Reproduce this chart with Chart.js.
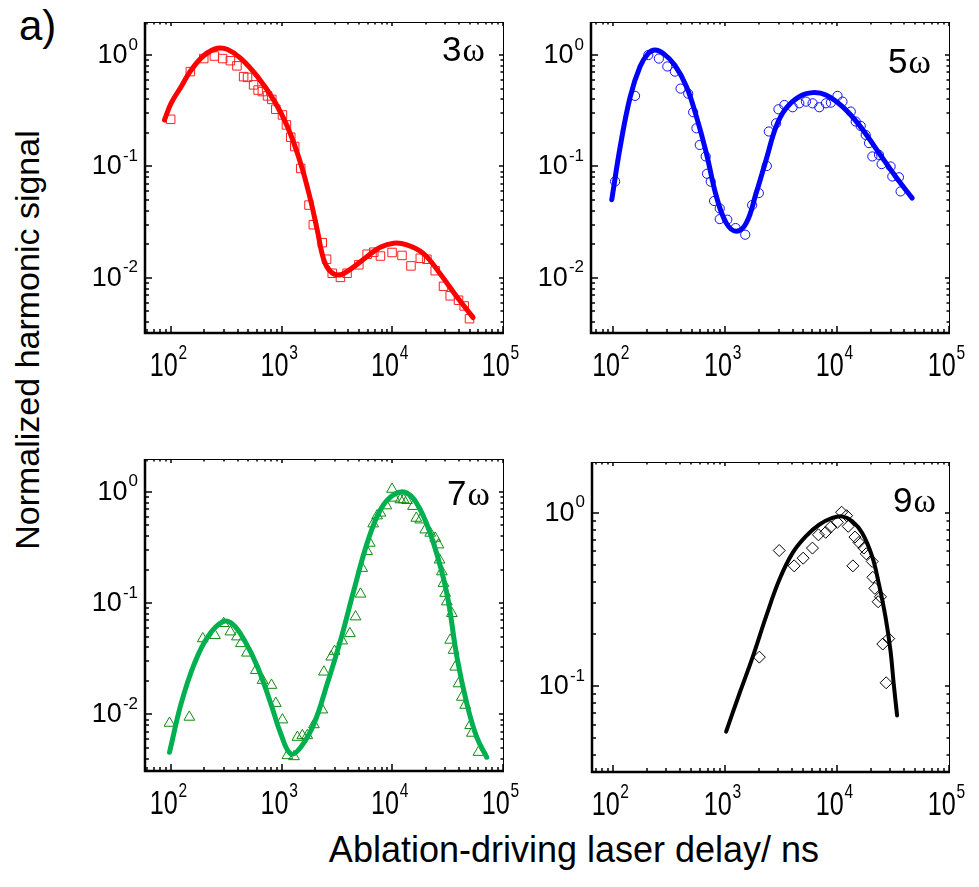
<!DOCTYPE html>
<html>
<head>
<meta charset="utf-8">
<script src="https://cdn.jsdelivr.net/npm/chart.js@4.4.1/dist/chart.umd.min.js"></script>
<style>
  body { margin: 0; background: #fff; }
  #page { position: relative; width: 979px; height: 887px; overflow: hidden; font-family: "Liberation Sans", Arial, sans-serif; }
  canvas { position: absolute; }
  .txt { position: absolute; color: #000; white-space: nowrap; line-height: 1; }
  #tagA { left: 19px; top: 5px; font-size: 42px; }
  #yTitle { left: 27px; top: 340px; font-size: 34px; transform: translate(-50%, -50%) rotate(-90deg); }
  #xTitle { left: 574px; top: 850px; font-size: 36px; transform: translate(-50%, -50%); }
</style>
</head>
<body>
<div id="page">
  <div class="txt" id="tagA">a)</div>
  <div class="txt" id="yTitle">Normalized harmonic signal</div>
  <div class="txt" id="xTitle">Ablation-driving laser delay/ ns</div>
  <canvas id="c3"></canvas>
  <canvas id="c5"></canvas>
  <canvas id="c7"></canvas>
  <canvas id="c9"></canvas>
</div>
<script>
// tick decades shown as 10^n
const xDecades = [2, 3, 4, 5];
const yDecadesWide = [0, -1, -2];
const yDecadesNarrow = [0, -1];
const harmonicLabels = ['3', '5', '7', '9'];

// 3rd harmonic
const h3Delay = [99, 149, 197, 246, 292, 343, 393, 452, 490, 556, 611, 668, 743, 813, 883, 1014, 1102, 1205, 1309, 1483, 1762, 1928, 2324, 2541, 2858, 3390, 3892, 4974, 5913, 6792, 7798, 9931, 12220, 14720, 17870, 20510, 24380, 28980, 33310, 39620, 44570, 49800];
const h3Signal = [0.265, 0.71, 0.93, 0.98, 0.93, 0.89, 0.80, 0.64, 0.63, 0.54, 0.485, 0.47, 0.43, 0.40, 0.326, 0.29, 0.236, 0.183, 0.151, 0.096, 0.045, 0.030, 0.0207, 0.0147, 0.0110, 0.0101, 0.0110, 0.0131, 0.0163, 0.0170, 0.0157, 0.0169, 0.0159, 0.0128, 0.0150, 0.0147, 0.0116, 0.0084, 0.0069, 0.0063, 0.0056, 0.0043];
const h3FitDelay = [87, 100, 123, 151, 200, 263, 324, 428, 603, 853, 1124, 1480, 1820, 2090, 2400, 2760, 3290, 4190, 5880, 7760, 10240, 13490, 19010, 26800, 38100, 53700];
const h3FitSignal = [0.261, 0.37, 0.52, 0.73, 1.0, 1.15, 1.12, 0.93, 0.64, 0.39, 0.228, 0.107, 0.050, 0.027, 0.0145, 0.0114, 0.0106, 0.0120, 0.0155, 0.0188, 0.0205, 0.0198, 0.0166, 0.0110, 0.0068, 0.0044];

// 5th harmonic
const h5Delay = [103.5, 156, 205, 255, 303, 354, 398, 466, 516, 552, 591, 668, 687, 741, 794, 892, 892, 1042, 1236, 1507, 1738, 1995, 2350, 2450, 2845, 2986, 3376, 4002, 4590, 5260, 6030, 6920, 7940, 8790, 10070, 11150, 13240, 14660, 16250, 18000, 19280, 20640, 23660, 24990, 30060, 31120, 35670, 36920];
const h5Signal = [0.0734, 0.43, 1.0, 0.93, 0.79, 0.71, 0.50, 0.45, 0.307, 0.22, 0.156, 0.123, 0.086, 0.073, 0.049, 0.042, 0.0337, 0.0333, 0.028, 0.0244, 0.045, 0.0577, 0.101, 0.206, 0.244, 0.326, 0.356, 0.34, 0.369, 0.382, 0.369, 0.34, 0.369, 0.374, 0.43, 0.382, 0.311, 0.253, 0.231, 0.192, 0.162, 0.123, 0.127, 0.105, 0.1, 0.0813, 0.080, 0.0597];
const h5FitDelay = [96.6, 115, 141, 173, 205, 235, 279, 354, 450, 552, 677, 832, 1021, 1253, 1538, 1888, 2318, 2845, 3493, 4590, 6030, 7940, 11150, 15700, 23660, 33270, 46880];
const h5FitSignal = [0.0503, 0.151, 0.42, 0.79, 1.035, 1.11, 1.035, 0.81, 0.52, 0.28, 0.132, 0.054, 0.031, 0.0262, 0.031, 0.0577, 0.115, 0.228, 0.333, 0.424, 0.46, 0.438, 0.344, 0.236, 0.132, 0.0813, 0.052];

// 7th harmonic
const h7Delay = [96.6, 146, 193, 249, 298, 343, 393, 427, 484, 583, 670, 807, 883, 1014, 1124, 1291, 1384, 1535, 1702, 1954, 2324, 2403, 2799, 2999, 3520, 4130, 4645, 5150, 5330, 5913, 6250, 6700, 7280, 7800, 8830, 9930, 10420, 11800, 12640, 13550, 15350, 16450, 17870, 19820, 21990, 24380, 26120, 26680, 27990, 28980, 30000, 31050, 34500, 33300, 35700, 36980, 39630, 42460, 45500, 50470, 52260, 60000];
const h7Signal = [0.00835, 0.00946, 0.048, 0.0513, 0.0658, 0.0553, 0.0499, 0.0434, 0.0357, 0.0249, 0.0203, 0.0183, 0.0126, 0.00895, 0.00427, 0.00418, 0.00624, 0.00646, 0.00646, 0.0081, 0.011, 0.0241, 0.0329, 0.037, 0.0459, 0.0534, 0.0755, 0.121, 0.206, 0.292, 0.347, 0.518, 0.611, 0.647, 0.753, 1.06, 0.883, 0.853, 0.853, 0.84, 0.743, 0.582, 0.562, 0.457, 0.427, 0.385, 0.335, 0.245, 0.192, 0.151, 0.123, 0.103, 0.081, 0.0466, 0.0378, 0.0267, 0.0189, 0.0143, 0.0121, 0.00796, 0.00679, 0.00457];
const h7FitDelay = [96.6, 123, 162, 214, 292, 359, 458, 604, 796, 980, 1205, 1483, 1955, 2576, 3400, 4490, 5913, 7800, 10280, 13550, 17870, 23550, 31050, 38300, 47100, 57900, 71300];
const h7FitSignal = [0.00457, 0.0125, 0.0286, 0.0499, 0.068, 0.0649, 0.0466, 0.0267, 0.0125, 0.0067, 0.00442, 0.00507, 0.00824, 0.0189, 0.0466, 0.1315, 0.347, 0.693, 0.946, 0.98, 0.693, 0.347, 0.123, 0.0329, 0.0125, 0.00624, 0.00412];

// 9th harmonic
const h9Delay = [2027, 3050, 4145, 4987, 6040, 6830, 7930, 8790, 10070, 11000, 12190, 12600, 13870, 14460, 15700, 17380, 18240, 20620, 20900, 21780, 23300, 24440, 25640, 28970, 27470];
const h9Signal = [0.147, 0.607, 0.495, 0.548, 0.627, 0.748, 0.773, 0.830, 0.883, 1.01, 0.965, 0.837, 0.495, 0.726, 0.676, 0.627, 0.581, 0.525, 0.425, 0.367, 0.307, 0.328, 0.175, 0.188, 0.1045];
const h9FitDelay = [1024, 1345, 1766, 2322, 3050, 4005, 5263, 6920, 9090, 11150, 13680, 16790, 20600, 23600, 27100, 30000, 32100, 34400];
const h9FitSignal = [0.0546, 0.0903, 0.147, 0.251, 0.41, 0.586, 0.732, 0.855, 0.936, 0.956, 0.895, 0.766, 0.561, 0.392, 0.251, 0.161, 0.103, 0.0676];

const PAD = { left: 110, top: 20, right: 40, bottom: 60 };

function pairs(xs, ys) {
  return xs.map((x, i) => ({ x: x, y: ys[i] }));
}

function logTickValues(min, max) {
  const out = [];
  for (let d = Math.floor(Math.log10(min)); d <= Math.ceil(Math.log10(max)); d++) {
    for (let k = 1; k <= 9; k++) {
      const v = k * Math.pow(10, d);
      if (v >= min * 0.999 && v <= max * 1.001) out.push({ v: v, major: k === 1, exp: d });
    }
  }
  return out;
}

// "10" with a raised exponent
function drawPower(ctx, x, y, exp, size, sx, align) {
  ctx.save();
  ctx.translate(x, y);
  ctx.scale(sx, 1);
  ctx.font = size + 'px "Liberation Sans", Arial, sans-serif';
  const wb = ctx.measureText('10').width;
  const esize = Math.round(size * 0.62);
  ctx.font = esize + 'px "Liberation Sans", Arial, sans-serif';
  const es = String(exp);
  const we = ctx.measureText(es).width;
  let x0 = 0;
  if (align === 'right') x0 = -(wb + we + 1);
  else x0 = -(wb + we) / 2;
  ctx.fillStyle = '#000';
  ctx.textBaseline = 'alphabetic';
  ctx.textAlign = 'left';
  ctx.font = size + 'px "Liberation Sans", Arial, sans-serif';
  ctx.fillText('10', x0, 0);
  ctx.font = esize + 'px "Liberation Sans", Arial, sans-serif';
  ctx.fillText(es, x0 + wb + 1, -size * 0.5);
  ctx.restore();
}

const framePlugin = {
  id: 'frame',
  afterDraw(chart, args, opts) {
    const ctx = chart.ctx;
    const a = chart.chartArea;
    const sx = chart.scales.x, sy = chart.scales.y;
    ctx.save();
    ctx.strokeStyle = '#000';
    // ticks
    ctx.lineWidth = 1.5;
    ctx.beginPath();
    logTickValues(sx.min, sx.max).forEach(t => {
      const px = Math.round(sx.getPixelForValue(t.v));
      ctx.moveTo(px, a.bottom);
      ctx.lineTo(px, a.bottom - (t.major ? 7 : 4));
      ctx.moveTo(px, a.top);
      ctx.lineTo(px, a.top + (t.major ? 4 : 2.5));
    });
    logTickValues(sy.min, sy.max).forEach(t => {
      const py = Math.round(sy.getPixelForValue(t.v));
      ctx.moveTo(a.left, py);
      ctx.lineTo(a.left + (t.major ? 7 : 4), py);
      ctx.moveTo(a.right, py);
      ctx.lineTo(a.right - (t.major ? 4 : 2.5), py);
    });
    ctx.stroke();
    // frame: thin top/right, heavy left/bottom
    ctx.lineWidth = 1;
    ctx.strokeRect(a.left + 0.5, a.top + 0.5, a.right - a.left, a.bottom - a.top);
    ctx.lineWidth = 2.5;
    ctx.beginPath();
    ctx.moveTo(a.left, a.top);
    ctx.lineTo(a.left, a.bottom);
    ctx.lineTo(a.right + 1, a.bottom);
    ctx.stroke();
    ctx.restore();

    // tick labels
    opts.xDecades.forEach(d => {
      const px = sx.getPixelForValue(Math.pow(10, d));
      drawPower(ctx, px - 3, a.bottom + 43, d, 34, 0.74, 'center');
    });
    opts.yDecades.forEach(d => {
      const py = sy.getPixelForValue(Math.pow(10, d));
      drawPower(ctx, a.left - 7, py + 8, d, 27, 1, 'right');
    });

    // harmonic order label
    ctx.save();
    ctx.fillStyle = '#000';
    ctx.textBaseline = 'alphabetic';
    ctx.font = '35px "Liberation Sans", Arial, sans-serif';
    const lx = a.right - opts.labelDx, ly = a.top + opts.labelDy;
    ctx.fillText(opts.label, lx, ly);
    const w = ctx.measureText(opts.label).width;
    ctx.font = '34px "Liberation Serif", "DejaVu Serif", serif';
    ctx.fillText('\u03c9', lx + w + 1, ly);
    ctx.restore();
  }
};

function makePanel(id, box, xRange, yRange, pts, fit, color, markColor, style, radius, lineW, label, labelDx, labelDy, yDecades) {
  const cv = document.getElementById(id);
  cv.width = box.R - box.L + PAD.left + PAD.right;
  cv.height = box.B - box.T + PAD.top + PAD.bottom;
  cv.style.left = (box.L - PAD.left) + 'px';
  cv.style.top = (box.T - PAD.top) + 'px';
  const axis = (range, horiz) => ({
    type: 'logarithmic',
    min: range[0],
    max: range[1],
    ticks: { display: false },
    grid: { display: false },
    border: { display: false },
    afterFit: s => { if (horiz) s.height = 0; else s.width = 0; }
  });
  return new Chart(cv, {
    type: 'scatter',
    data: {
      datasets: [
        {
          data: fit,
          showLine: true,
          borderColor: color,
          borderWidth: lineW,
          pointRadius: 0,
          tension: 0.4,
          borderCapStyle: 'round',
          fill: false
        },
        {
          data: pts,
          showLine: false,
          pointStyle: style,
          pointRadius: radius,
          pointBorderWidth: 1,
          pointBorderColor: markColor,
          pointBackgroundColor: 'rgba(0,0,0,0)'
        }
      ]
    },
    options: {
      responsive: false,
      animation: false,
      events: [],
      layout: { padding: PAD },
      scales: { x: axis(xRange, true), y: axis(yRange, false) },
      plugins: {
        legend: { display: false },
        tooltip: { enabled: false },
        frame: { xDecades: xDecades, yDecades: yDecades, label: label, labelDx: labelDx, labelDy: labelDy }
      }
    },
    plugins: [framePlugin]
  });
}

makePanel('c3', { L: 145, T: 22, R: 503, B: 333 }, [58, 1e5], [0.0032, 1.98],
  pairs(h3Delay, h3Signal), pairs(h3FitDelay, h3FitSignal),
  '#ff0000', '#ff2020', 'rect', 6, 5, harmonicLabels[0], 61, 39, yDecadesWide);
makePanel('c5', { L: 591, T: 22, R: 949, B: 333 }, [63, 1e5], [0.0032, 1.98],
  pairs(h5Delay, h5Signal), pairs(h5FitDelay, h5FitSignal),
  '#0000ff', '#1010ff', 'circle', 4.6, 5, harmonicLabels[1], 61, 51, yDecadesWide);
makePanel('c7', { L: 145, T: 459, R: 503, B: 771 }, [58, 1e5], [0.0031, 1.98],
  pairs(h7Delay, h7Signal), pairs(h7FitDelay, h7FitSignal),
  '#00b050', '#108a10', 'triangle', 6.2, 5, harmonicLabels[2], 56, 46, yDecadesWide);
makePanel('c9', { L: 592, T: 462, R: 949, B: 772 }, [65, 1e5], [0.0319, 1.97],
  pairs(h9Delay, h9Signal), pairs(h9FitDelay, h9FitSignal),
  '#000000', '#000000', 'rectRot', 6, 4, harmonicLabels[3], 56, 50, yDecadesNarrow);
</script>
</body>
</html>
